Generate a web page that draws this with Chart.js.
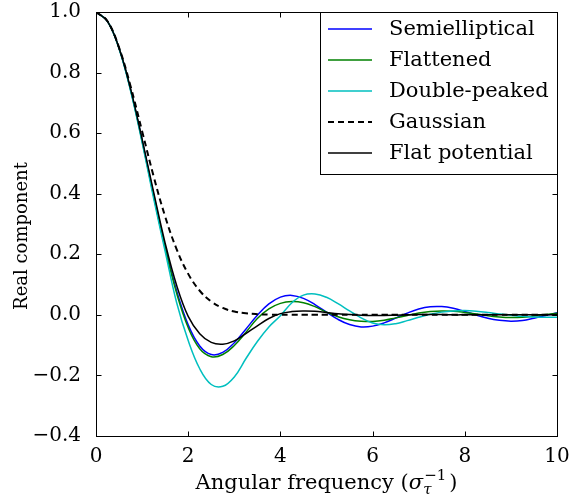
<!DOCTYPE html>
<html><head><meta charset="utf-8">
<script src="https://cdn.jsdelivr.net/npm/chart.js@4.4.1/dist/chart.umd.min.js"></script>
<style>html,body{margin:0;padding:0;background:#fff;} canvas{display:block;}</style>
</head><body>
<canvas id="c" width="573" height="500"></canvas>
<script>
// Angular frequency (sigma_tau^-1)
const freq = [0,0.25,0.5,0.75,1,1.25,1.5,1.75,2,2.25,2.5,2.75,3,3.25,3.5,3.75,4,4.25,4.5,4.75,5,5.25,5.5,5.75,6,6.25,6.5,6.75,7,7.25,7.5,7.75,8,8.25,8.5,8.75,9,9.25,9.5,9.75,10];

const semielliptical = [1,0.9692,0.8802,0.7439,0.5767,0.3977,0.2261,0.0785,-0.0330,-0.1027,-0.1310,-0.1241,-0.0922,-0.0473,-0.0013,0.0361,0.0587,0.0643,0.0545,0.0340,0.0087,-0.0150,-0.0321,-0.0397,-0.0372,-0.0265,-0.0108,0.0056,0.0191,0.0267,0.0273,0.0216,0.0113,-0.0007,-0.0115,-0.0182,-0.0209,-0.0187,-0.0111,-0.0025,0.0067];

const flattened = [1,0.969,0.880,0.743,0.574,0.393,0.220,0.071,-0.042,-0.112,-0.138,-0.131,-0.101,-0.058,-0.012,0.020,0.038,0.044,0.040,0.027,0.009,-0.006,-0.016,-0.021,-0.022,-0.018,-0.010,-0.002,0.006,0.011,0.013,0.012,0.008,0.003,-0.003,-0.007,-0.009,-0.008,-0.004,0.001,0.005];

const doublePeaked = [1,0.969,0.879,0.740,0.570,0.385,0.210,0.040,-0.085,-0.178,-0.230,-0.236,-0.205,-0.145,-0.088,-0.040,-0.003,0.040,0.065,0.069,0.058,0.037,0.013,-0.010,-0.027,-0.033,-0.029,-0.019,-0.008,0.002,0.009,0.013,0.014,0.012,0.008,0.003,-0.001,-0.005,-0.007,-0.008,-0.008];

const gaussian = [1,0.9692,0.8825,0.7548,0.6065,0.4578,0.3247,0.2163,0.1353,0.0796,0.0439,0.0228,0.0111,0.0051,0.0022,0.0009,0.0003,0.0001,0,0,0,0,0,0,0,0,0,0,0,0,0,0,0,0,0,0,0,0,0,0,0];

const flatPotential = [1,0.969,0.881,0.746,0.580,0.405,0.237,0.097,-0.005,-0.062,-0.091,-0.097,-0.086,-0.062,-0.036,-0.012,0.004,0.011,0.013,0.012,0.008,0.004,0.001,-0.001,-0.002,-0.002,-0.001,0,0.001,0.001,0.001,0,0,0,0,0,0,0,0,0,0];

const seriesNames = ['Semielliptical','Flattened','Double-peaked','Gaussian','Flat potential'];
const xTicks = [0,2,4,6,8,10];
const yTicks = [-0.4,-0.2,0.0,0.2,0.4,0.6,0.8,1.0];

const FONT = "'DejaVu Serif', serif";
const FS = 20;      // tick labels
const FS_LEG = 21;  // legend
const FS_X = 21;    // x title
const FS_Y = 18;    // y title

const styles = [
  {color:'#0000ff', dash:[], width:1.5, order:4},
  {color:'#008000', dash:[], width:1.5, order:3},
  {color:'#00bfbf', dash:[], width:1.5, order:2},
  {color:'#000000', dash:[6,4], width:2, order:1},
  {color:'#000000', dash:[], width:1.5, order:0}
];
const values = [semielliptical, flattened, doublePeaked, gaussian, flatPotential];

const datasets = seriesNames.map((name,k)=>({
  label: name,
  data: freq.map((x,i)=>({x:x, y:values[k][i]})),
  borderColor: styles[k].color,
  borderDash: styles[k].dash,
  borderWidth: styles[k].width,
  order: styles[k].order,
  pointRadius: 0,
  fill: false,
  tension: 0.4,
  cubicInterpolationMode: 'default'
}));

const framePlugin = {
  id:'frame',
  afterDatasetsDraw(chart){
    const ctx = chart.ctx, a = chart.chartArea;
    const L = Math.round(a.left)+0.5, R = Math.round(a.right)+0.5, T = Math.round(a.top)+0.5, B = Math.round(a.bottom)+0.5;
    ctx.save();
    ctx.strokeStyle = '#000'; ctx.lineWidth = 1;
    ctx.strokeRect(L, T, R-L, B-T);
    const tl = 5;
    ctx.beginPath();
    xTicks.forEach(v=>{
      const p = Math.round(chart.scales.x.getPixelForValue(v))+0.5;
      ctx.moveTo(p,B); ctx.lineTo(p,B-tl);
      ctx.moveTo(p,T); ctx.lineTo(p,T+tl);
    });
    yTicks.forEach(v=>{
      const p = Math.round(chart.scales.y.getPixelForValue(v))+0.5;
      ctx.moveTo(L,p); ctx.lineTo(L+tl,p);
      ctx.moveTo(R,p); ctx.lineTo(R-tl,p);
    });
    ctx.stroke();
    ctx.restore();
  },
  afterDraw(chart){
    const ctx = chart.ctx, a = chart.chartArea;
    ctx.save();
    // legend
    const bx = 320.5, by = Math.round(a.top)+0.5, bw = Math.round(a.right)+0.5 - bx, bh = 162;
    ctx.fillStyle = '#fff';
    ctx.fillRect(bx, by, bw, bh);
    ctx.strokeStyle = '#000'; ctx.lineWidth = 1;
    ctx.strokeRect(bx, by, bw, bh);
    ctx.font = FS_LEG + 'px ' + FONT;
    ctx.textBaseline = 'middle';
    ctx.textAlign = 'left';
    seriesNames.forEach((name,k)=>{
      const y = 29 + 31*k;
      ctx.beginPath();
      ctx.strokeStyle = styles[k].color;
      ctx.lineWidth = styles[k].width;
      ctx.setLineDash(styles[k].dash);
      ctx.moveTo(328, y); ctx.lineTo(372, y);
      ctx.stroke();
      ctx.setLineDash([]);
      ctx.fillStyle = '#000';
      ctx.fillText(name, 389, y+1);
    });
    // y title
    ctx.save();
    ctx.translate(22, 236);
    ctx.rotate(-Math.PI/2);
    ctx.textAlign = 'center';
    ctx.textBaseline = 'middle';
    ctx.fillStyle = '#000';
    ctx.font = FS_Y + 'px ' + FONT;
    ctx.fillText('Real component', 0, 0);
    ctx.restore();
    // x title with math
    const cx = (a.left+a.right)/2, cy = 482;
    const sm = Math.round(FS_X*0.7);
    const big = FS_X + 'px ' + FONT, ital = 'italic ' + FS_X + 'px ' + FONT, small = sm + 'px ' + FONT, smallI = 'italic ' + sm + 'px ' + FONT;
    const p1 = 'Angular frequency (';
    ctx.font = big; const w1 = ctx.measureText(p1).width;
    ctx.font = ital; const w2 = ctx.measureText('\u03C3').width;
    ctx.font = smallI; const w3 = ctx.measureText('\u03C4').width;
    ctx.font = small; const w4 = ctx.measureText('\u22121').width;
    ctx.font = big; const w5 = ctx.measureText(')').width;
    const gap = 4;
    const total = w1 + w2 + Math.max(w3,w4) + gap + w5;
    let x = cx - total/2;
    ctx.textAlign = 'left'; ctx.textBaseline = 'alphabetic'; ctx.fillStyle = '#000';
    const base = cy + 7;
    ctx.font = big; ctx.fillText(p1, x, base); x += w1;
    ctx.font = ital; ctx.fillText('\u03C3', x, base); x += w2;
    ctx.font = smallI; ctx.fillText('\u03C4', x, base + 5);
    ctx.font = small; ctx.fillText('\u22121', x + 1, base - 9);
    x += Math.max(w3,w4) + gap;
    ctx.font = big; ctx.fillText(')', x, base);
    ctx.restore();
  }
};

new Chart(document.getElementById('c'), {
  type: 'line',
  data: { datasets: datasets },
  options: {
    responsive: false,
    animation: false,
    devicePixelRatio: 1,
    layout: { padding: { top: 12, right: 16, left: 0, bottom: 0 } },
    plugins: { legend: { display: false }, tooltip: { enabled: false } },
    scales: {
      x: {
        type: 'linear', min: 0, max: 10,
        afterBuildTicks: s => { s.ticks = xTicks.map(v=>({value:v})); },
        ticks: { font: { family: FONT, size: FS }, color: '#000', padding: 1, maxRotation: 0,
                 callback: v => String(v) },
        grid: { display: false }, border: { display: false },
        afterFit: s => { s.height = 64; s.paddingLeft = 0; s.paddingRight = 0; }
      },
      y: {
        type: 'linear', min: -0.4, max: 1.0,
        afterBuildTicks: s => { s.ticks = yTicks.map(v=>({value:v})); },
        ticks: { font: { family: FONT, size: FS }, color: '#000', padding: 7,
                 callback: v => { let r = Math.round(v*10)/10; if (Math.abs(r) < 1e-9) r = 0; return r.toFixed(1).replace('-', '\u2212'); } },
        grid: { display: false }, border: { display: false },
        afterFit: s => { s.width = 96; s.paddingTop = 0; s.paddingBottom = 0; }
      }
    }
  },
  plugins: [framePlugin]
});
</script>
</body></html>
